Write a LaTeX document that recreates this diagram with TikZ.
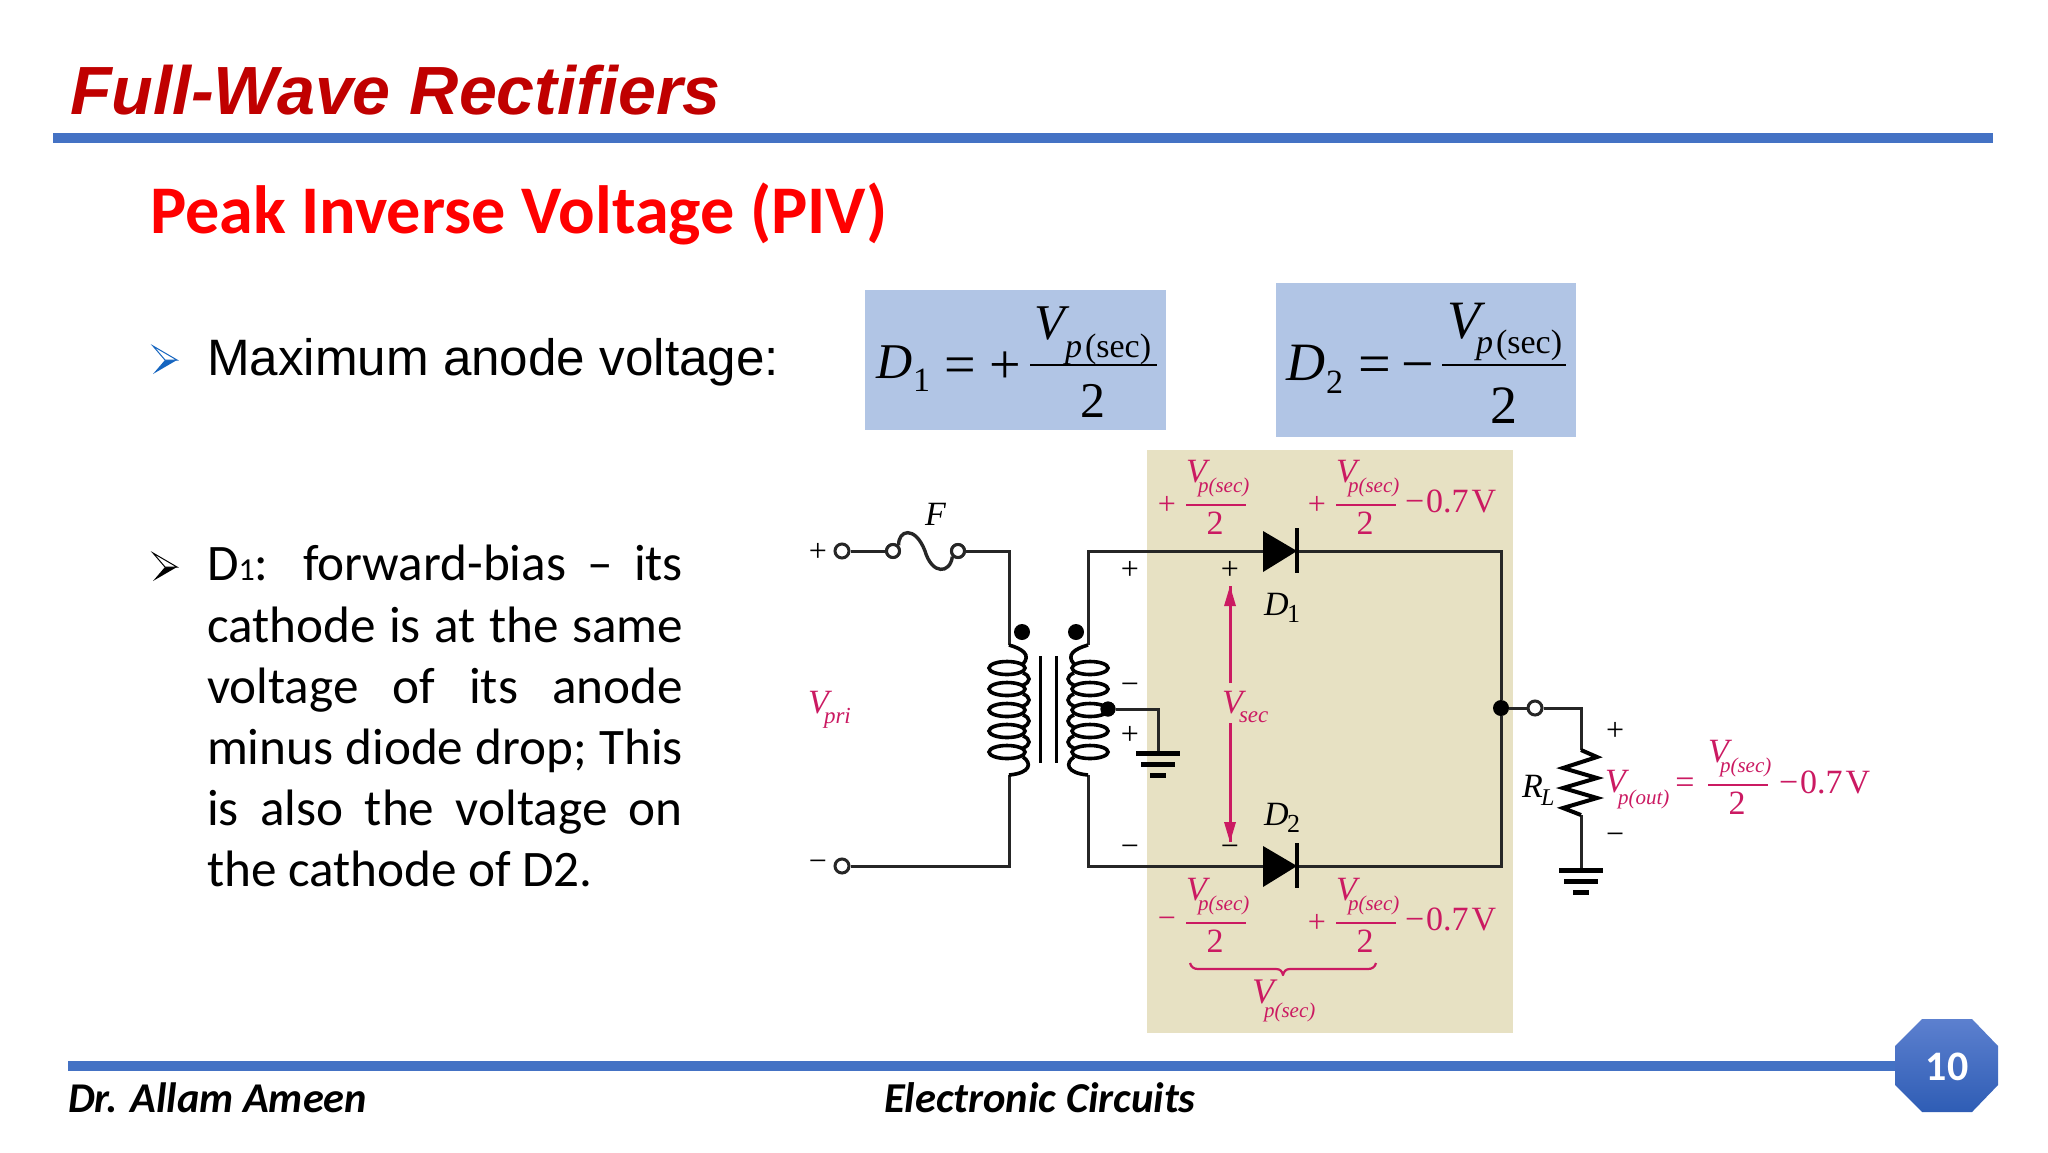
\documentclass[tikz,border=0pt]{standalone}
\usepackage{fontspec}
\setmainfont{Liberation Serif}
\newfontfamily\arialf{Liberation Sans}
\newfontfamily\calf{Carlito}
\usetikzlibrary{calc}
\definecolor{tanbg}{HTML}{E7E1C3}
\definecolor{eqblue}{HTML}{B1C5E5}
\definecolor{rulebl}{HTML}{4472C4}
\definecolor{mag}{HTML}{CB1A62}
\definecolor{titlered}{HTML}{C00000}
\definecolor{octtop}{HTML}{5C80CF}
\definecolor{octbot}{HTML}{2F5DB5}
\definecolor{bulblue}{HTML}{1565C0}
\newcommand{\fs}[1]{\fontsize{#1}{#1}\selectfont}
\newcommand{\drop}{−\hspace{1pt}0.7\hspace{1.5pt}V}
\tikzset{
  txt/.style={inner sep=0pt,outer sep=0pt,anchor=base west},
  ctr/.style={inner sep=0pt,outer sep=0pt,anchor=base},
  body/.style={txt,font=\calf\fs{25.6}},
  wire/.style={line width=1.5pt,draw=black!85,line join=miter},
  coilw/.style={line width=1.8pt,draw=black},
  term/.style={circle,draw=black!85,fill=white,line width=1.5pt,minimum size=7pt,inner sep=0pt},
  jdot/.style={circle,fill=black,minimum size=8pt,inner sep=0pt},
  sign/.style={inner sep=0pt,outer sep=0pt,anchor=center,font=\fs{16}},
  msign/.style={sign,text=mag},
  gbar/.style={line width=2.5pt,draw=black},
  magline/.style={line width=1.5pt,draw=mag},
  fracbar/.style={line width=1.2pt,draw=mag},
}
% \vfrac{name}{left x}{bar y}
\newcommand{\vfrac}[3]{%
  \coordinate (#1a) at (#2,#3);
  \coordinate (#1b) at (#2+60,#3);
  \draw[fracbar] (#1a) -- (#1b);
  \node[txt,text=mag,font=\fs{17}\itshape] (#1V) at (#2,#3-23) {V};
  \node[txt,text=mag,font=\fs{10.5}\itshape] (#1S) at (#2+12,#3-12.5) {p(sec)};
  \node[ctr,text=mag,font=\fs{17}] (#1T) at (#2+29,#3+29) {2};
}
\newcommand{\hbull}[3]{% x y colour
  \fill[#3] (#1,#2+14) -- (#1+24,#2) -- (#1+12,#2) -- cycle;
  \draw[#3,line width=.5pt,fill=white] (#1,#2-14) -- (#1+24,#2) -- (#1+12,#2) -- cycle;
}
\begin{document}
\begin{tikzpicture}[x=0.5pt,y=-0.5pt]
\useasboundingbox (0,0) rectangle (2048,1152);
\fill[white] (0,0) rectangle (2048,1152);
% header
\node[txt,text=titlered,font=\arialf\bfseries\itshape\fs{34.1}] (title) at (70,114) {Full-Wave Rectifiers};
\coordinate (r1a) at (53,138); \coordinate (r1b) at (1993,138);
\draw[rulebl,line width=5pt] (r1a) -- (r1b);
\node[txt,text=red,font=\calf\bfseries\fs{34.1}] (sub) at (150,233) {Peak Inverse Voltage (PIV)};
% bullet 1
\hbull{153}{360}{bulblue}
\node[txt,font=\arialf\fs{25.6}] (b1) at (207,375) {Maximum anode voltage:};
% bullet 2
\hbull{153}{567}{black}
\node[body] (l1) at (207,580) {\makebox[238pt][s]{D{\fs{16}1}: forward-bias – its}};
\node[body] (l2) at (207,642) {\makebox[238pt][s]{cathode is at the same}};
\node[body] (l3) at (207,703) {\makebox[238pt][s]{voltage of its anode}};
\node[body] (l4) at (207,764) {\makebox[238pt][s]{minus diode drop; This}};
\node[body] (l5) at (207,825) {\makebox[238pt][s]{is also the voltage on}};
\node[body] (l6) at (207,886) {the cathode of D2.};
% equation boxes
\fill[eqblue] (865,290) rectangle (1166,430);
\fill[eqblue] (1276,283) rectangle (1576,437);
\node[txt,font=\fs{25}\itshape] (d1) at (876,378) {D};
\node[txt,font=\fs{17}] (d1s) at (913,391) {1};
\node[ctr,font=\fs{28}] (d1e) at (960,383) {=};
\node[ctr,font=\fs{28}] (d1p) at (1005,383) {+};
\coordinate (f1a) at (1030,365); \coordinate (f1b) at (1157,365);
\draw[line width=1pt] (f1a) -- (f1b);
\node[txt,font=\fs{25}\itshape] (f1v) at (1034,339) {V};
\node[txt,font=\fs{17}] (f1s) at (1065,357) {\textit{p}\hspace{1.5pt}(sec)};
\node[ctr,font=\fs{25}] (f1t) at (1093,417) {2};
\node[txt,font=\fs{27}\itshape] (d2) at (1286,380) {D};
\node[txt,font=\fs{17}] (d2s) at (1326,393) {2};
\node[ctr,font=\fs{29}] (d2e) at (1375,383) {=};
\node[ctr,font=\fs{29}] (d2p) at (1418,383) {−};
\coordinate (f2a) at (1442,365); \coordinate (f2b) at (1566,365);
\draw[line width=1pt] (f2a) -- (f2b);
\node[txt,font=\fs{27}\itshape] (f2v) at (1447,338) {V};
\node[txt,font=\fs{17}] (f2s) at (1476,353) {\textit{p}\hspace{1.5pt}(sec)};
\node[ctr,font=\fs{27}] (f2t) at (1504,423) {2};
% panel
\fill[tanbg] (1147,450) rectangle (1513,1033);
% circuit coordinates
\node[term] (inp) at (842,551) {};
\node[term] (inm) at (842,866) {};
\node[term,minimum size=6.5pt] (fl) at (893,551) {};
\node[term,minimum size=6.5pt] (fr) at (958,551) {};
\coordinate (pt) at (1009,645);
\coordinate (pb) at (1009,775);
\coordinate (st) at (1088,645);
\coordinate (sb) at (1088,775);
\coordinate (d1a) at (1263,551);
\coordinate (d1k) at (1297,551);
\coordinate (d2a) at (1263,866);
\coordinate (d2k) at (1297,866);
\coordinate (corner1) at (1501,551);
\coordinate (corner2) at (1501,866);
\node[jdot] (out) at (1501,708) {};
\node[term] (oc) at (1535,708) {};
\coordinate (rt) at (1581,750);
\coordinate (rb) at (1581,815);
\coordinate (g2) at (1581,870);
\coordinate (g1) at (1158,753);
\node[jdot,minimum size=7.5pt] (tap) at (1108,709) {};
% wires
\draw[wire] (inp) -- (fl);
\draw[wire,line width=1.7pt] (fl.north east) .. controls (898,530) and (915,525) .. (925,551) .. controls (932,575) and (950,574) .. (fr.south west);
\draw[wire] (fr) -| (pt);
\draw[wire] (inm) -| (pb);
\draw[wire] (st) |- (d1a);
\draw[wire] (sb) |- (d2a);
\draw[wire] (d1k) -- (corner1) -- (out);
\draw[wire] (d2k) -- (corner2) -- (out);
\draw[wire] (out) -- (oc);
\draw[wire] (oc) -| (rt);
\draw[wire] (rb) -- (g2);
\draw[wire] (tap) -| (g1);
% fuse terminals on top of the curve
\node[term,minimum size=6.5pt] at (fl) {};
\node[term,minimum size=6.5pt] at (fr) {};
% resistor
\draw[line width=2pt,line join=miter] (rt) -- (1597,757) -- (1563,768) -- (1597,778) -- (1563,788) -- (1597,798) -- (1563,808) -- (rb);
% transformer
\foreach \sx/\dotx in {1009/1,1088/-1}{
\begin{scope}[shift={(\sx,0)},xscale=\dotx]
  \foreach \yy in {668,689,710,731,752}
    \draw[coilw] (-2,\yy) ellipse (18 and 6.5);
  \foreach \yy in {668,689,710,731}
    \draw[coilw] (14,\yy+5) .. controls (22,\yy+8) and (22,\yy+14) .. (14,\yy+17);
  \draw[coilw] (0,645) .. controls (14,649) and (22,655) .. (14,664);
  \draw[coilw] (14,757) .. controls (23,763) and (22,773) .. (0,775);
\end{scope}}
\coordinate (c1a) at (1040,656); \coordinate (c1b) at (1040,763);
\coordinate (c2a) at (1056,656); \coordinate (c2b) at (1056,763);
\draw[line width=1.5pt] (c1a) -- (c1b);
\draw[line width=1.5pt] (c2a) -- (c2b);
\node[jdot] (dotp) at (1022,632) {};
\node[jdot] (dots) at (1076,632) {};
\node[jdot,minimum size=7.5pt] at (tap) {};
% grounds
\foreach \gg/\hw in {g1/22,g2/22}{
  \draw[gbar] ($(\gg)+(-\hw,0)$) -- ($(\gg)+(\hw,0)$);
  \draw[gbar] ($(\gg)+(-17,11)$) -- ($(\gg)+(17,11)$);
  \draw[gbar] ($(\gg)+(-8,22)$) -- ($(\gg)+(8,22)$);
}
% diodes
\fill ($(d1a)+(0,-20)$) -- (d1k) -- ($(d1a)+(0,21)$) -- cycle;
\draw[line width=2pt] ($(d1k)+(0,-23)$) -- ($(d1k)+(0,22)$);
\fill ($(d2a)+(0,-20)$) -- (d2k) -- ($(d2a)+(0,21)$) -- cycle;
\draw[line width=2pt] ($(d2k)+(0,-23)$) -- ($(d2k)+(0,22)$);
% black labels
\node[sign] (s1) at (818,552) {+};
\node[sign] (s2) at (818,866) {−};
\node[sign] (s3) at (1130,570) {+};
\node[sign] (s4) at (1130,689) {−};
\node[sign] (s5) at (1130,735) {+};
\node[sign] (s6) at (1130,851) {−};
\node[sign] (s7) at (1230,570) {+};
\node[sign] (s8) at (1230,851) {−};
\node[sign] (s9) at (1615,731) {+};
\node[sign] (s10) at (1615,839) {−};
\node[txt,font=\fs{17}\itshape] (F) at (925,525) {F};
\node[txt,font=\fs{17}\itshape] (lD1) at (1264,615) {D};
\node[txt,font=\fs{13}] (lD1s) at (1287,622) {1};
\node[txt,font=\fs{17}\itshape] (lD2) at (1264,825) {D};
\node[txt,font=\fs{13}] (lD2s) at (1287,832) {2};
\node[txt,font=\fs{17}\itshape] (lR) at (1522,797) {R};
\node[txt,font=\fs{12}\itshape] (lRs) at (1541,805) {L};
% Vsec arrows
\coordinate (vu1) at (1230,683); \coordinate (vu2) at (1230,586);
\coordinate (vd1) at (1230,723); \coordinate (vd2) at (1230,842);
\draw[magline] (vu1) -- (vu2);
\draw[magline] (vd1) -- (vd2);
\fill[mag] (vu2) -- ++(-6,20) -- ++(12,0) -- cycle;
\fill[mag] (vd2) -- ++(-6,-20) -- ++(12,0) -- cycle;
\node[txt,text=mag,font=\fs{17}\itshape] (vsec) at (1222,713) {V};
\node[txt,text=mag,font=\fs{11.5}\itshape] (vsecs) at (1239,722) {sec};
\node[txt,text=mag,font=\fs{17}\itshape] (vpri) at (808,713) {V};
\node[txt,text=mag,font=\fs{11.5}\itshape] (vpris) at (824,723) {pri};
% fractions in the panel
\node[msign] (m1) at (1167,505) {+};
\vfrac{A}{1186}{505}
\node[msign] (m2) at (1317,505) {+};
\vfrac{B}{1336}{505}
\node[txt,text=mag,font=\fs{17}] (Bx) at (1405,512) {\drop};
\node[msign] (m3) at (1167,923) {−};
\vfrac{C}{1186}{923}
\node[msign] (m4) at (1317,923) {+};
\vfrac{D}{1336}{923}
\node[txt,text=mag,font=\fs{17}] (Dx) at (1405,930) {\drop};
% brace
\draw[line width=1.1pt,draw=mag,line join=round] (1190,963) .. controls (1191,967) and (1194,969) .. (1198,969) -- (1276,969) .. controls (1280,969) and (1282,971) .. (1283,975) .. controls (1284,971) and (1286,969) .. (1290,969) -- (1368,969) .. controls (1372,969) and (1375,967) .. (1376,963);
\node[txt,text=mag,font=\fs{18}\itshape] (vp) at (1252,1003) {V};
\node[txt,text=mag,font=\fs{10.5}\itshape] (vps) at (1264,1017) {p(sec)};
% output label
\node[txt,text=mag,font=\fs{17}\itshape] (vo) at (1605,792) {V};
\node[txt,text=mag,font=\fs{10.5}\itshape] (vos) at (1618,804) {p(out)};
\node[ctr,text=mag,font=\fs{17}] (voe) at (1685,793) {=};
\vfrac{E}{1708}{785}
\node[txt,text=mag,font=\fs{17}] (Ex) at (1779,793) {\drop};
% footer
\coordinate (r2a) at (68,1066); \coordinate (r2b) at (1895,1066);
\draw[rulebl,line width=5pt] (r2a) -- (r2b);
\shade[top color=octtop,bottom color=octbot] (1922,1019) -- (1972,1019) -- (1998,1046) -- (1998,1085) -- (1972,1112) -- (1922,1112) -- (1895,1085) -- (1895,1046) -- cycle;
\node[ctr,anchor=center,inner sep=0pt,text=white,font=\calf\bfseries\fs{21}] (pg) at (1947,1067) {10};
\node[txt,font=\calf\bfseries\itshape\fs{21.2}] (f1) at (68,1112) {Dr. Allam Ameen};
\node[txt,font=\calf\bfseries\itshape\fs{21.3}] (f2) at (884,1112) {Electronic Circuits};
\end{tikzpicture}
\end{document}
